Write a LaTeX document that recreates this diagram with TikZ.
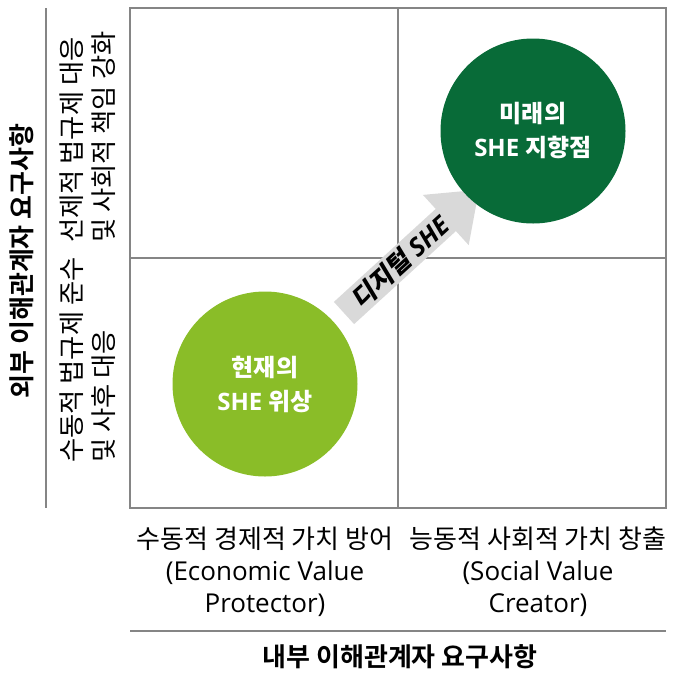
\documentclass[tikz,border=0pt]{standalone}
\usepackage{fontspec}
\setmainfont{Open Sans}
\newfontfamily\kr{Noto Sans CJK KR}
\newfontfamily\krbold{Noto Sans CJK KR Bold}
\newfontfamily\krslant{Noto Sans CJK KR Bold}[FakeSlant=0.2]
\definecolor{gridgray}{HTML}{858585}
\definecolor{lightgreen}{HTML}{8ABD28}
\definecolor{darkgreen}{HTML}{086B38}
\definecolor{arrowgray}{HTML}{D9D9D9}
\tikzset{
  gridline/.style={draw=gridgray, line width=2pt},
  bubble/.style={circle, minimum size=185pt, inner sep=0pt, text=white, align=center,
     font=\bfseries\fontsize{24}{34}\selectfont},
  axislabel/.style={inner sep=0pt, font=\fontsize{26}{32}\selectfont},
  sidelabel/.style={inner sep=0pt, font=\kr\fontsize{26.3}{32}\selectfont},
  axistitle/.style={inner sep=0pt, font=\krbold\fontsize{26}{30}\selectfont},
}
\begin{document}
\begin{tikzpicture}[x=1pt,y=-1pt]
\useasboundingbox (0,0) rectangle (683,673);
% grid
\draw[gridline] (130,8) rectangle (666,508);
\draw[gridline] (398,8) -- (398,508);
\draw[gridline] (130,258) -- (666,258);
\draw[gridline] (46,8) -- (46,508);
\draw[gridline] (130,631) -- (666,631);
% arrow
\fill[arrowgray] (354.1,324.1) -- (455.9,231.1) -- (468.7,245.1) -- (479.0,189.7)
   -- (422.9,194.9) -- (435.7,208.9) -- (333.9,301.9) -- cycle;
\node[inner sep=0pt, rotate=42.4, font=\bfseries\itshape\fontsize{25.5}{28}\selectfont] (digital) at (400,262) {{\krslant 디지털} SHE};
% circles
\node[bubble, fill=lightgreen] (now) at (265,384) {{\krbold 현재의}\\SHE {\krbold 위상}};
\node[bubble, fill=darkgreen] (future) at (533,131) {{\krbold 미래의}\\SHE {\krbold 지향점}};
% bottom labels
\node[axislabel, align=center] (econ) at (265,572) {{\kr 수동적 경제적 가치 방어}\\(Economic Value\\Protector)};
\node[axislabel, align=center] (social) at (538,572) {{\kr 능동적 사회적 가치 창출}\\(Social Value\\Creator)};
\node[axistitle] (internal) at (400,657) {내부 이해관계자 요구사항};
% left labels
\node[axistitle, rotate=90] (external) at (22,261) {외부 이해관계자 요구사항};
\node[sidelabel, rotate=90, anchor=west] (up1) at (72,243) {선제적 법규제 대응};
\node[sidelabel, rotate=90, anchor=west] (up2) at (104,243) {및 사회적 책임 강화};
\node[sidelabel, rotate=90, anchor=west] (lo1) at (72,463) {수동적 법규제 준수};
\node[sidelabel, rotate=90, anchor=west] (lo2) at (104,463) {및 사후 대응};
\end{tikzpicture}
\end{document}
